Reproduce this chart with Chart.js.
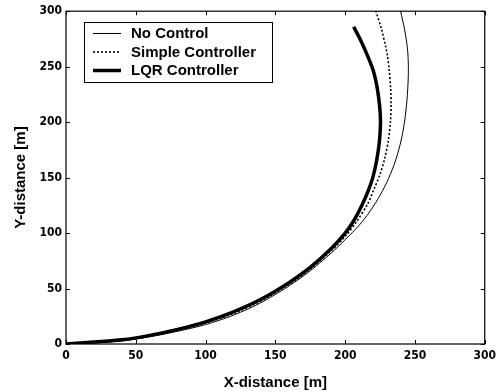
<!DOCTYPE html>
<html>
<head>
<meta charset="utf-8">
<script src="https://cdn.jsdelivr.net/npm/chart.js@4/dist/chart.umd.min.js"></script>
<style>
  html, body { margin: 0; padding: 0; background: #fff; }
  #wrap { width: 501px; height: 392px; }
</style>
</head>
<body>
<div id="wrap"><canvas id="c" width="501" height="392"></canvas></div>
<script>
// ---- Data ----
const seriesNames = ["No Control", "Simple Controller", "LQR Controller"];

const noControlX = [0, 20, 40, 60, 80, 100, 120, 140, 160, 175, 190, 200, 210, 218, 225, 231, 236, 240, 242.5, 244.3, 245.2, 245.2, 244.5, 242.5, 239.7];
const noControlY = [0, 1, 2.8, 6.5, 11.5, 17.5, 26, 37.5, 52.5, 66, 82, 94, 107, 120, 134, 149, 165, 183, 200, 220, 240, 255, 268, 284, 300];

const simpleX = [0, 20, 40, 60, 80, 100, 120, 140, 160, 175, 190, 200, 208, 216, 220.8, 225, 228.5, 231, 232.5, 232.9, 232.6, 231.5, 230.3, 229, 226, 222];
const simpleY = [0, 1.3, 3.2, 7, 12.3, 19, 27.5, 39, 54, 67.5, 84, 97, 110, 126, 140, 153, 168, 184, 201, 216, 230, 248, 260, 268, 284, 300];

const lqrX = [0, 20, 40, 60, 80, 100, 120, 140, 160, 175, 190, 200, 206.6, 212, 216.5, 219.8, 222.5, 224.5, 225.3, 225, 224, 222.5, 220, 216, 211, 206.1];
const lqrY = [0, 1.8, 3.8, 7.8, 13.2, 20, 29, 40.5, 55.5, 69, 86, 100, 112, 125, 138, 150, 165, 182, 198, 210, 222, 234, 247, 260, 274, 286];

const xTicks = [0, 50, 100, 150, 200, 250, 300];
const yTicks = [0, 50, 100, 150, 200, 250, 300];

const xTitle = "X-distance [m]";
const yTitle = "Y-distance [m]";

// ---- helpers ----
function pairs(xs, ys) { return xs.map((x, i) => ({ x: x, y: ys[i] })); }

const tickFont = { family: "'Liberation Sans Narrow', 'DejaVu Sans Condensed', 'Liberation Sans', sans-serif", size: 12, weight: 'bold' };
const titleFont = { family: "'Liberation Sans', Arial, sans-serif", size: 15, weight: 'bold' };

// Frame + inward ticks (MATLAB style)
const framePlugin = {
  id: 'frame',
  afterDatasetsDraw(chart) {
    const { ctx, chartArea: a, scales } = chart;
    ctx.save();
    ctx.strokeStyle = '#000';
    ctx.lineWidth = 1.2;
    ctx.strokeRect(a.left, a.top, a.right - a.left, a.bottom - a.top);
    ctx.lineWidth = 1;
    const L = 4;
    ctx.beginPath();
    xTicks.forEach(v => {
      const px = Math.round(scales.x.getPixelForValue(v)) + 0.5;
      ctx.moveTo(px, a.bottom); ctx.lineTo(px, a.bottom - L);
      ctx.moveTo(px, a.top); ctx.lineTo(px, a.top + L);
    });
    yTicks.forEach(v => {
      const py = Math.round(scales.y.getPixelForValue(v)) + 0.5;
      ctx.moveTo(a.left, py); ctx.lineTo(a.left + L, py);
      ctx.moveTo(a.right, py); ctx.lineTo(a.right - L, py);
    });
    ctx.stroke();
    ctx.restore();
  }
};

// Boxed legend inside the plot (upper left)
const legendPlugin = {
  id: 'boxLegend',
  afterDraw(chart) {
    const { ctx } = chart;
    const bx = 84.5, by = 22.5, bw = 188, bh = 60;
    ctx.save();
    ctx.fillStyle = '#fff';
    ctx.fillRect(bx, by, bw, bh);
    ctx.strokeStyle = '#000';
    ctx.lineWidth = 1;
    ctx.strokeRect(bx, by, bw, bh);
    const rows = [33.5, 52, 70.5];
    chart.data.datasets.forEach((ds, i) => {
      const y = rows[i];
      ctx.beginPath();
      ctx.strokeStyle = ds.borderColor;
      ctx.lineWidth = ds.borderWidth;
      ctx.setLineDash(ds.borderDash || []);
      ctx.moveTo(93, y);
      ctx.lineTo(121, y);
      ctx.stroke();
      ctx.setLineDash([]);
      ctx.fillStyle = '#000';
      ctx.font = "bold 15px 'Liberation Sans', Arial, sans-serif";
      ctx.textBaseline = 'middle';
      ctx.textAlign = 'left';
      ctx.fillText(ds.label, 131, y + 0.5);
    });
    ctx.restore();
  }
};

new Chart(document.getElementById('c'), {
  type: 'scatter',
  data: {
    datasets: [
      { label: seriesNames[0], data: pairs(noControlX, noControlY), showLine: true, borderColor: '#000', borderWidth: 1, pointRadius: 0, tension: 0.3, fill: false },
      { label: seriesNames[1], data: pairs(simpleX, simpleY), showLine: true, borderColor: '#000', borderWidth: 1.6, borderDash: [2, 2], pointRadius: 0, tension: 0.3, fill: false },
      { label: seriesNames[2], data: pairs(lqrX, lqrY), showLine: true, borderColor: '#000', borderWidth: 3.5, pointRadius: 0, tension: 0.3, fill: false }
    ]
  },
  options: {
    responsive: false,
    animation: false,
    events: [],
    layout: { padding: { left: 0, top: 9, right: 13, bottom: 0 } },
    plugins: { legend: { display: false }, tooltip: { enabled: false } },
    scales: {
      x: {
        type: 'linear', min: 0, max: 300,
        afterBuildTicks: s => { s.ticks = xTicks.map(v => ({ value: v })); },
        afterFit: s => { s.height = 48; },
        grid: { display: false, drawTicks: false },
        border: { display: false },
        ticks: { color: '#000', font: tickFont, padding: 5, maxRotation: 0 },
        title: { display: true, text: xTitle, color: '#000', font: titleFont, padding: { top: 4, bottom: 0 } }
      },
      y: {
        type: 'linear', min: 0, max: 300,
        afterBuildTicks: s => { s.ticks = yTicks.map(v => ({ value: v })); },
        afterFit: s => { s.width = 66; },
        grid: { display: false, drawTicks: false },
        border: { display: false },
        ticks: { color: '#000', font: tickFont, padding: 4 },
        title: { display: true, text: yTitle, color: '#000', font: titleFont, padding: { top: 12, bottom: 0 } }
      }
    }
  },
  plugins: [framePlugin, legendPlugin]
});
</script>
</body>
</html>
